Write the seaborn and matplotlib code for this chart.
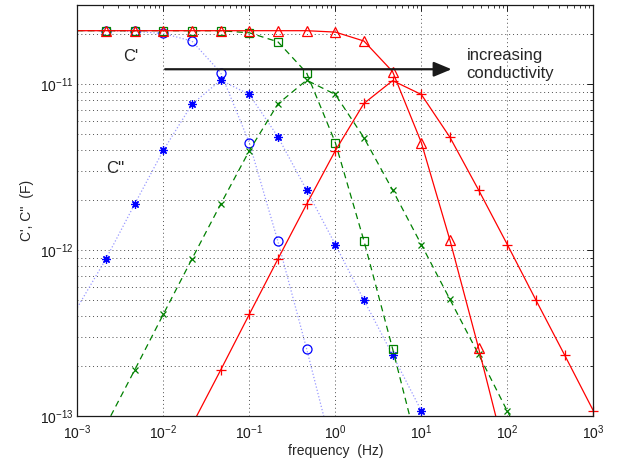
import numpy as np
import matplotlib
matplotlib.use("Agg")
import matplotlib.pyplot as plt
import seaborn as sns
from matplotlib.ticker import LogLocator, NullFormatter

nan = np.nan
freq = [1e-3, 2.15e-3, 4.64e-3, 1e-2, 2.15e-2, 4.64e-2, 0.1, 0.215, 0.464,
        1.0, 2.15, 4.64, 10.0, 21.5, 46.4, 100.0, 215.0, 464.0, 1000.0]

# lowest conductivity (blue)
blue_c1 = [2.10e-11, 2.10e-11, 2.08e-11, 2.02e-11, 1.82e-11, 1.175e-11, 4.43e-12,
           1.13e-12, 2.54e-13, 5.3e-14, nan, nan, nan, nan, nan, nan, nan, nan, nan]
blue_c2 = [4.5e-13, 8.83e-13, 1.89e-12, 3.99e-12, 7.55e-12, 1.057e-11, 8.67e-12,
           4.82e-12, 2.30e-12, 1.08e-12, 5.0e-13, 2.33e-13, 1.076e-13, 5.0e-14,
           nan, nan, nan, nan, nan]
# medium conductivity (green)
green_c1 = [2.10e-11, 2.10e-11, 2.10e-11, 2.10e-11, 2.10e-11, 2.10e-11, 2.04e-11,
            1.80e-11, 1.17e-11, 4.45e-12, 1.14e-12, 2.54e-13, 5.3e-14,
            nan, nan, nan, nan, nan, nan]
green_c2 = [4.1e-14, 8.8e-14, 1.89e-13, 4.10e-13, 8.83e-13, 1.89e-12, 3.97e-12,
            7.6e-12, 1.057e-11, 8.67e-12, 4.76e-12, 2.30e-12, 1.08e-12, 5.05e-13,
            2.35e-13, 1.07e-13, 5.0e-14, nan, nan]
# highest conductivity (red)
red_c1 = [2.10e-11, 2.10e-11, 2.10e-11, 2.10e-11, 2.10e-11, 2.10e-11, 2.10e-11,
          2.10e-11, 2.10e-11, 2.06e-11, 1.82e-11, 1.19e-11, 4.45e-12, 1.15e-12,
          2.56e-13, 5.3e-14, nan, nan, nan]
red_c2 = [nan, nan, nan, 4.1e-14, 8.8e-14, 1.89e-13, 4.10e-13, 8.83e-13, 1.89e-12,
          3.97e-12, 7.65e-12, 1.05e-11, 8.67e-12, 4.79e-12, 2.30e-12, 1.08e-12,
          5.0e-13, 2.33e-13, 1.076e-13]

x_ticks = [1e-3, 1e-2, 1e-1, 1e0, 1e1, 1e2, 1e3]
y_ticks = [1e-13, 1e-12, 1e-11]
x_label = "frequency  (Hz)"
y_label = "C', C''  (F)"

sns.set_theme(style="white")
plt.rcParams['font.family'] = ['Liberation Sans', 'DejaVu Sans']
plt.rcParams['mathtext.fontset'] = 'custom'
plt.rcParams['mathtext.rm'] = 'Liberation Sans'
plt.rcParams['mathtext.it'] = 'Liberation Sans:italic'
plt.rcParams['mathtext.default'] = 'regular'

fig = plt.figure(figsize=(6.18, 4.62), dpi=100)
ax = fig.add_axes([77.3 / 618, 46 / 462, 516 / 618, 411 / 462])
ax.set_xscale('log')
ax.set_yscale('log')

YMIN, YMAX = 1e-13, 3e-11

blue = (0, 0, 1)
blue_line = (0.6, 0.6, 1.0)
green = (0, 0.5, 0)
red = (1, 0, 0)
aster = (8, 2, 0)

series = [
    (blue_c1, blue, blue_line, ':', 0.9, 'o', 6.5, 'none'),
    (blue_c2, blue, blue_line, ':', 0.9, aster, 6.0, 'none'),
    (green_c1, green, green, (0, (5, 3.5)), 0.9, 's', 5.5, 'none'),
    (green_c2, green, green, (0, (5, 3.5)), 0.9, 'x', 4.5, 'none'),
    (red_c1, red, red, '-', 0.9, '^', 7.5, 'none'),
    (red_c2, red, red, '-', 0.9, '+', 7.0, 'none'),
]

for vals, mcol, lcol, ls, lw, mk, ms, mfc in series:
    sns.lineplot(x=freq, y=vals, ax=ax, color=lcol, linestyle=ls, linewidth=lw,
                 estimator=None, sort=False)
    mvals = np.array(vals[1:], dtype=float)
    mvals = np.where(mvals >= YMIN, mvals, np.nan)  # only markers inside the view
    sns.lineplot(x=freq[1:], y=mvals, ax=ax, color=mcol, linestyle='none',
                 marker=mk, markersize=ms, markerfacecolor=mfc,
                 markeredgecolor=mcol, markeredgewidth=0.9,
                 estimator=None, sort=False, clip_on=False)

ax.set_xticks(x_ticks)
ax.set_yticks(y_ticks)
ax.xaxis.set_minor_locator(LogLocator(base=10, subs=np.arange(2, 10), numticks=100))
ax.yaxis.set_minor_locator(LogLocator(base=10, subs=np.arange(2, 10), numticks=100))
ax.xaxis.set_minor_formatter(NullFormatter())
ax.yaxis.set_minor_formatter(NullFormatter())
ax.set_xlim(1e-3, 1e3)
ax.set_ylim(YMIN, YMAX)

grid_kw = dict(color='0.3', linestyle=(0, (1, 3)), linewidth=0.7)
ax.grid(True, which='major', axis='both', **grid_kw)
ax.grid(True, which='minor', axis='y', **grid_kw)
ax.set_axisbelow(True)

ax.tick_params(which='both', direction='in', top=True, right=True,
               colors='k', labelsize=10)
ax.tick_params(which='major', length=4, width=0.7)
ax.tick_params(axis='x', which='major', pad=5.5)
ax.tick_params(axis='y', which='major', pad=3)
ax.tick_params(which='minor', length=2.5, width=0.6)
for s in ax.spines.values():
    s.set_color('k')
    s.set_linewidth(0.9)

ax.set_xlabel(x_label, fontsize=10, labelpad=1)
ax.set_ylabel(y_label, fontsize=10, labelpad=4)

ax.annotate('', xy=(22.5, 1.23e-11), xytext=(1.05e-2, 1.23e-11),
            arrowprops=dict(arrowstyle='-|>,head_length=0.6,head_width=0.25',
                            lw=1.6, color='k', mutation_scale=18,
                            shrinkA=0, shrinkB=0))
ax.text(4.2e-3, 1.46e-11, "C'", fontsize=12, ha='center', va='center')
ax.text(2.74e-3, 3.12e-12, "C''", fontsize=12, ha='center', va='center')
ax.text(33.7e0, 1.48e-11, "increasing", fontsize=12, ha='left', va='center')
ax.text(33.7e0, 1.16e-11, "conductivity", fontsize=12, ha='left', va='center')

fig.savefig("out.png", dpi=100)
